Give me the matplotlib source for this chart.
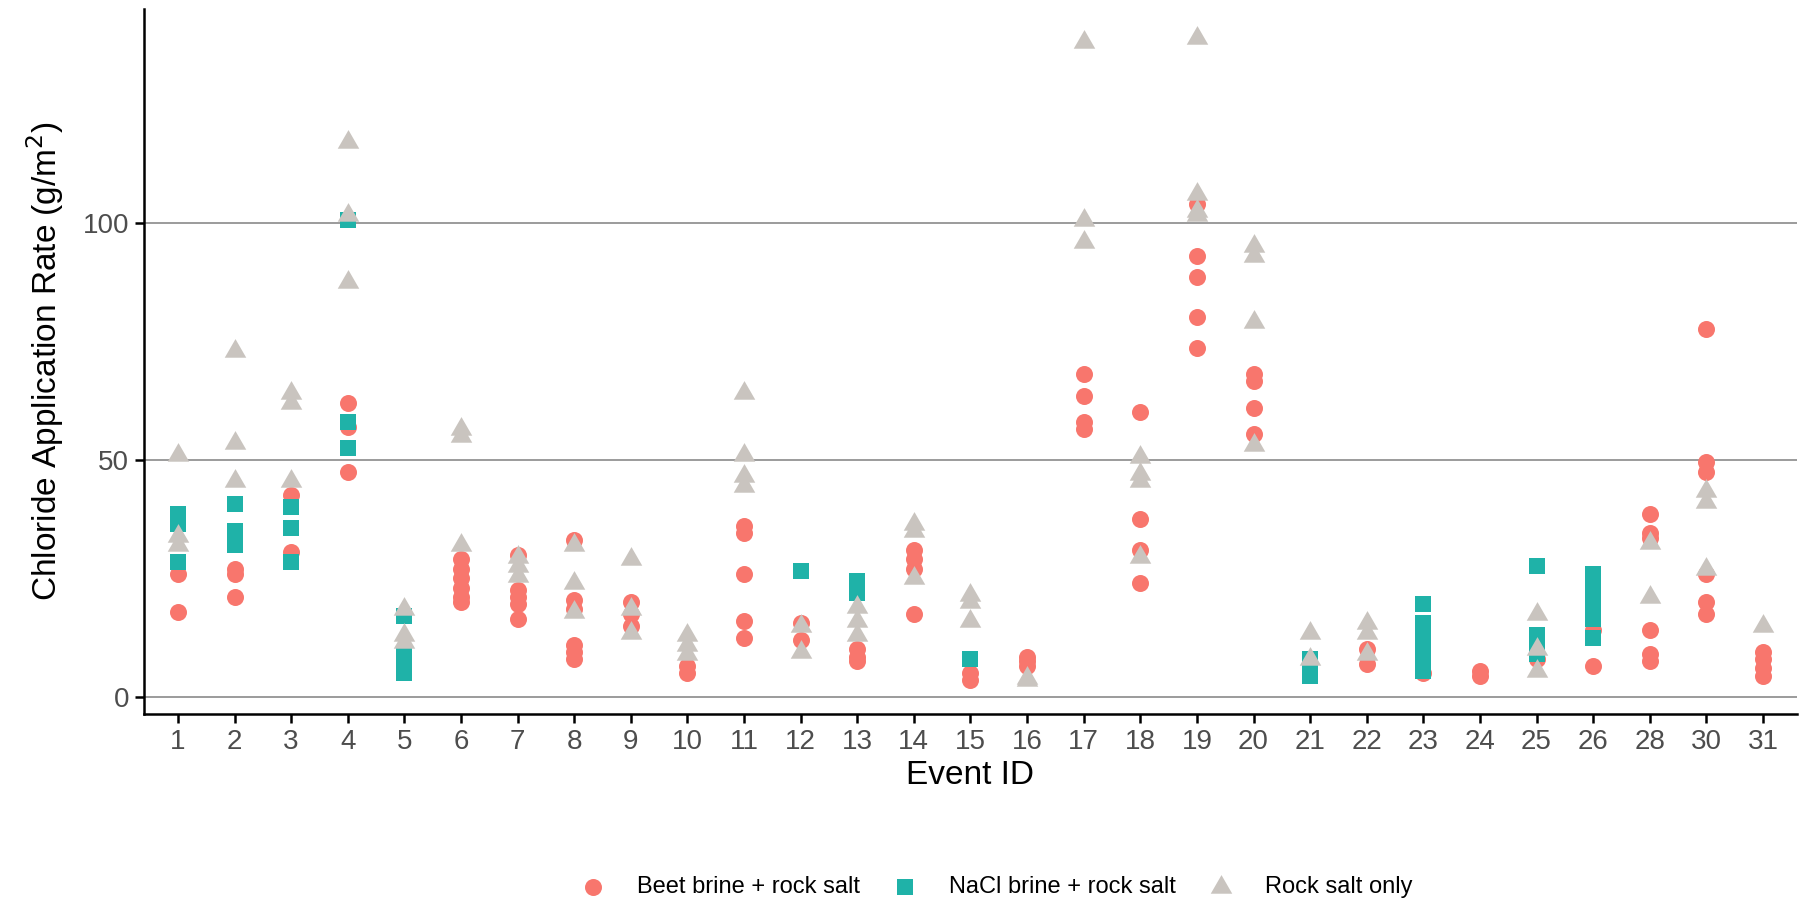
import matplotlib as mpl
import matplotlib.pyplot as plt
import numpy as np

mpl.rcParams['font.family'] = ['Liberation Sans', 'DejaVu Sans']

# event ids shown on the x axis (27 and 29 are missing)
events = [1, 2, 3, 4, 5, 6, 7, 8, 9, 10, 11, 12, 13, 14, 15, 16, 17, 18, 19, 20,
          21, 22, 23, 24, 25, 26, 28, 30, 31]

# chloride application rate (g/m2) per event
beet = {
    1: [26, 18], 2: [27, 26, 21], 3: [42.5, 30.5], 4: [62, 57, 47.5],
    6: [29, 27, 25, 23, 21, 20], 7: [30, 22.5, 21, 19.5, 16.5],
    8: [33, 20.5, 18.5, 11, 9.5, 8], 9: [20, 17.5, 15], 10: [6.5, 5],
    11: [36, 34.5, 26, 16, 12.5], 12: [15.5, 12], 13: [10, 8.5, 7.5],
    14: [31, 29, 27, 17.5], 15: [5, 3.5], 16: [8.5, 7.5, 6.5],
    17: [68, 63.5, 58, 56.5], 18: [60, 37.5, 31, 24],
    19: [104, 93, 88.5, 80, 73.5], 20: [68, 66.5, 61, 55.5], 22: [10, 7],
    23: [5], 24: [5.5, 4.5], 25: [8], 26: [14, 6.5],
    28: [38.5, 34.5, 33.5, 14, 9, 7.5], 30: [77.5, 49.5, 47.5, 26, 20, 17.5],
    31: [9.5, 8, 6, 4.5],
}
nacl = {
    1: [38.5, 36.5, 28.5], 2: [40.7, 35, 32], 3: [40, 35.5, 28.5],
    4: [100.5, 58, 52.5], 5: [17, 9, 6.5, 5], 12: [26.5], 13: [24.5, 22],
    15: [8], 21: [8, 6, 4.5], 23: [19.5, 15.5, 12.5, 10, 7.5, 5.5],
    25: [27.5, 13, 11, 9], 26: [26, 23.5, 21, 18.5, 16.5, 12.5],
}
rock = {
    1: [51, 34, 32], 2: [73, 53.5, 45.5], 3: [64, 62, 45.5],
    4: [117, 101.5, 87.5], 5: [18.5, 13, 11.5], 6: [56.5, 55, 32],
    7: [29.5, 27.5, 25.5], 8: [32, 24, 18], 9: [29, 18.5, 13.5],
    10: [13, 11, 9], 11: [64, 51, 46.5, 44.5], 12: [15, 9.5],
    13: [19, 16, 13], 14: [36.5, 35, 25], 15: [21.5, 20, 16], 16: [4, 3.5],
    17: [138, 100.5, 96], 18: [50.5, 47, 45.5, 29.5],
    19: [139, 106, 102.5, 101.5], 20: [95, 93, 79, 53], 21: [13.5, 8],
    22: [15.5, 13.5, 9], 25: [17.5, 10, 5.5], 28: [32.5, 21],
    30: [43.5, 41, 27], 31: [15],
}

labels = ['Beet brine + rock salt', 'NaCl brine + rock salt', 'Rock salt only']
colors = ['#F8766D', '#1FB2A8', '#C9C4BF']

# equilateral triangle centred on its centroid, like ggplot shape 17
tri = [(0, 0.577), (-0.5, -0.289), (0.5, -0.289), (0, 0.577)]
markers = ['o', 's', tri]
sizes = [150, 140, 320]

fig = plt.figure(figsize=(18.06, 9.08), dpi=100)
ax = fig.add_axes([0.0797, 0.2137, 0.9153, 0.7763])

pos = {e: i for i, e in enumerate(events)}
for data, lab, col, mk, sz in zip([beet, nacl, rock], labels, colors, markers, sizes):
    xs = [pos[e] for e in data for _ in data[e]]
    ys = [v for e in data for v in data[e]]
    ax.scatter(xs, ys, s=sz, c=col, marker=mk, linewidths=0, label=lab, zorder=3)

# axes styling
ax.set_xlim(-0.6, len(events) - 0.4)
ax.set_ylim(-3.6, 145)
ax.set_xticks(range(len(events)))
ax.set_xticklabels([str(e) for e in events])
ax.set_yticks([0, 50, 100])
ax.yaxis.grid(True, color='#808080', linewidth=1.1, zorder=0)
ax.set_axisbelow(True)
for s in ['top', 'right']:
    ax.spines[s].set_visible(False)
for s in ['left', 'bottom']:
    ax.spines[s].set_linewidth(1.8)
ax.tick_params(axis='both', length=6.5, width=1.8, labelsize=20,
               labelcolor='#4D4D4D', pad=4)

ax.set_xlabel('Event ID', fontsize=24, labelpad=4)
ax.set_ylabel(r'Chloride Application Rate (g/m$^2$)', fontsize=24, labelpad=12)

fig.legend(loc='center', bbox_to_anchor=(0.552, 0.023), ncol=3, frameon=False,
           fontsize=17, handlelength=1.0, handletextpad=1.36, columnspacing=1.4,
           markerscale=1.0)

fig.savefig('out.png', dpi=100)
